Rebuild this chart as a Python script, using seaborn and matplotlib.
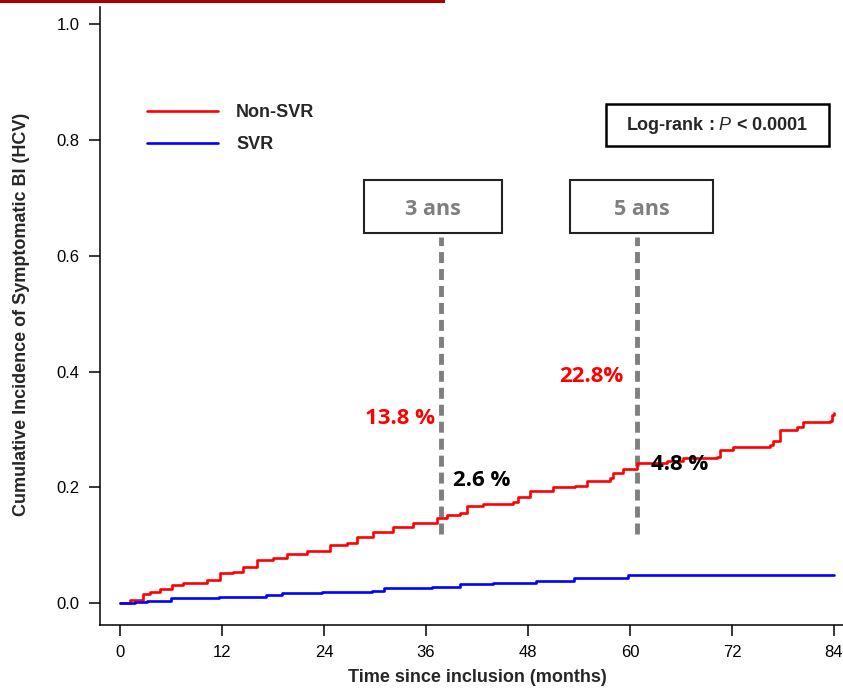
import matplotlib
matplotlib.use("Agg")
import matplotlib.pyplot as plt
from matplotlib.patches import Rectangle
import pandas as pd
import seaborn as sns

# Cumulative incidence step points (months since inclusion, proportion)
nonsvr_months = [0, 1.2, 2.7, 3.5, 4.7, 6.1, 7.4, 10.2, 11.8, 13.3, 14.5, 16.1, 18.0,
                 19.6, 22.0, 24.7, 26.7, 27.9, 29.8, 32.1, 34.5, 37.3, 38.5, 40.0,
                 40.8, 42.7, 46.2, 46.8, 48.2, 50.9, 53.5, 54.9, 57.6, 58.0, 59.2,
                 60.8, 64.4, 66.2, 70.2, 70.6, 72.1, 76.5, 76.8, 77.6, 79.6, 80.4,
                 83.5, 83.8, 84.0]
nonsvr_incidence = [0.000, 0.005, 0.016, 0.019, 0.024, 0.031, 0.034, 0.040, 0.052,
                    0.054, 0.062, 0.074, 0.078, 0.085, 0.090, 0.100, 0.104, 0.114,
                    0.123, 0.131, 0.138, 0.147, 0.152, 0.155, 0.168, 0.171, 0.174,
                    0.183, 0.193, 0.200, 0.202, 0.211, 0.216, 0.225, 0.231, 0.242,
                    0.245, 0.250, 0.252, 0.264, 0.269, 0.273, 0.280, 0.299, 0.304,
                    0.313, 0.314, 0.325, 0.328]

svr_months = [0, 1.8, 3.2, 6.0, 11.6, 17.2, 19.1, 23.8, 29.7, 31.1, 36.7, 40.0,
              43.9, 48.9, 53.4, 59.8, 84.0]
svr_incidence = [0.000, 0.002, 0.004, 0.008, 0.011, 0.014, 0.017, 0.019, 0.0215,
                 0.026, 0.0275, 0.032, 0.035, 0.038, 0.0425, 0.048, 0.048]

group_names = ["Non-SVR", "SVR"]
group_colors = ["#ff0000", "#0000ff"]

x_ticks = [0, 12, 24, 36, 48, 60, 72, 84]
y_ticks = [0.0, 0.2, 0.4, 0.6, 0.8, 1.0]

# Landmark annotations: label, month of the marker, Non-SVR text, SVR text
landmark_labels = ["3 ans", "5 ans"]
landmark_months = [37.8, 60.8]
landmark_nonsvr = ["13.8 %", "22.8%"]
landmark_svr = ["2.6 %", "4.8 %"]

df = pd.concat([
    pd.DataFrame({"month": nonsvr_months, "incidence": nonsvr_incidence, "group": group_names[0]}),
    pd.DataFrame({"month": svr_months, "incidence": svr_incidence, "group": group_names[1]}),
], ignore_index=True)

sns.set_style("ticks")
plt.rcParams["font.family"] = ["Liberation Sans", "DejaVu Sans"]
plt.rcParams["mathtext.fontset"] = "custom"
plt.rcParams["mathtext.rm"] = "Liberation Sans"
plt.rcParams["mathtext.it"] = "Liberation Sans:italic"
plt.rcParams["mathtext.bf"] = "Liberation Sans:bold"

W, H = 843, 689
fig = plt.figure(figsize=(W / 100, H / 100), dpi=100)
ax = fig.add_axes([100 / W, 64 / H, 743 / W, 618 / H])

sns.lineplot(data=df, x="month", y="incidence", hue="group", hue_order=group_names,
             palette=group_colors, estimator=None, sort=True, drawstyle="steps-post",
             linewidth=1.9, ax=ax)

ax.set_xlim(-2.35, 85.06)
ax.set_ylim(-0.038, 1.030)
ax.set_xticks(x_ticks)
ax.set_xticklabels([str(t) for t in x_ticks])
ax.set_yticks(y_ticks)
ax.set_yticklabels([f"{t:.1f}" for t in y_ticks])

for side in ("top", "right"):
    ax.spines[side].set_visible(False)
for side in ("left", "bottom"):
    ax.spines[side].set_linewidth(1.1)
    ax.spines[side].set_color("black")
ax.tick_params(axis="both", length=8, width=1.1, direction="out", colors="black",
               labelsize=12, pad=6.5)

ax.set_xlabel("Time since inclusion (months)", fontsize=13, fontweight="bold")
ax.set_ylabel("Cumulative Incidence of Symptomatic BI (HCV)", fontsize=13, fontweight="bold")
ax.xaxis.set_label_coords(0.5074, -0.071)
ax.yaxis.set_label_coords(-0.094, 0.503)

# Legend without frame, lines to the left of bold labels
handles, labels = ax.get_legend_handles_labels()
ax.legend(handles, labels, loc="upper left", bbox_to_anchor=(0.0633, 0.843),
          frameon=False, borderpad=0, borderaxespad=0, handlelength=3.93,
          handletextpad=1.0, labelspacing=0.85,
          prop={"size": 13, "weight": "bold"})

# Log-rank box
ax.add_patch(Rectangle((0.6810, 0.7751), 0.3002, 0.0679, transform=ax.transAxes,
                       facecolor="white", edgecolor="black", linewidth=1.8, zorder=5))
ax.text(0.8311, 0.8090, r"Log-rank : $\mathit{P}$ < 0.0001", transform=ax.transAxes,
        ha="center", va="center", fontsize=13, fontweight="bold", zorder=6)

# Landmark boxes and dashed markers
box_lefts = [0.3553, 0.6326]
box_widths = [0.1858, 0.1925]
for label, left, width in zip(landmark_labels, box_lefts, box_widths):
    ax.add_patch(Rectangle((left, 0.6343), width, 0.0858, transform=ax.transAxes,
                           facecolor="white", edgecolor="#222222", linewidth=1.5, zorder=5))
    ax.text(left + width / 2, 0.6725, label, transform=ax.transAxes, ha="center",
            va="center", fontsize=15.5, fontweight="bold", color="#7f7f7f",
            family="Open Sans", zorder=6)

ax.vlines(landmark_months, ymin=0.120, ymax=0.632, colors="#7f7f7f", linewidth=3.5,
          linestyles=[(0, (2.26, 1.23))], zorder=1)

nonsvr_pos = [(32.9, 0.318), (55.5, 0.392)]
svr_pos = [(42.6, 0.211), (65.8, 0.239)]
for txt, (x, y) in zip(landmark_nonsvr, nonsvr_pos):
    ax.text(x, y, txt, ha="center", va="center", fontsize=16, fontweight="bold",
            color="#ff0000", family="Open Sans", zorder=6)
for txt, (x, y) in zip(landmark_svr, svr_pos):
    ax.text(x, y, txt, ha="center", va="center", fontsize=16, fontweight="bold",
            color="black", family="Open Sans", zorder=6)

# Dark red rule along the top edge
fig.add_artist(Rectangle((0, 1 - 3 / H), 445 / W, 3 / H, transform=fig.transFigure,
                         facecolor="#a80000", edgecolor="none"))

fig.savefig("out.png", dpi=100)
